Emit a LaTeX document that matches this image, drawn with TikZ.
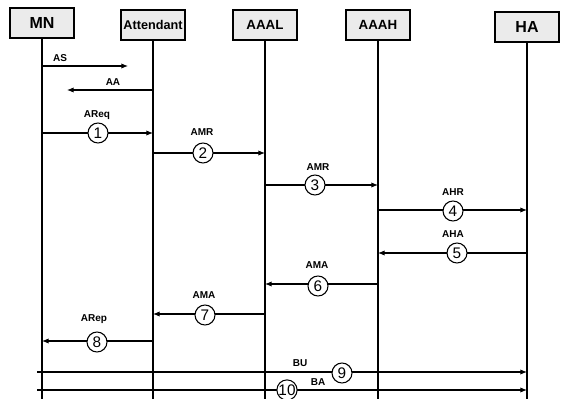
\documentclass[tikz,border=0pt]{standalone}
\usepackage{fontspec}
\setmainfont{Liberation Sans}
\usetikzlibrary{arrows.meta}
\begin{document}
\begin{tikzpicture}[x=0.75pt,y=-0.75pt,
  actor/.style={draw, line width=1pt, fill=black!8, minimum width=48pt, minimum height=22.5pt, inner sep=0pt},
  life/.style={line width=0.85pt},
  msg/.style={line width=0.85pt, -{Latex[length=5pt,width=4pt]}},
  circ/.style={circle, draw, fill=white, line width=0.8pt, minimum size=15pt, inner sep=0pt, font=\fontsize{11.5}{11.5}\selectfont},
  lbl/.style={font=\bfseries\fontsize{7.5}{8}\selectfont, inner sep=0pt}]
\useasboundingbox (0,0) rectangle (564,399);
% actors
\node[actor, font=\bfseries\fontsize{12}{12}\selectfont] (MN) at (42,23) {MN};
\node[actor, font=\bfseries\fontsize{9.5}{10}\selectfont] (ATT) at (153,25) {Attendant};
\node[actor, font=\bfseries\fontsize{10}{10}\selectfont] (AAAL) at (265,25) {AAAL};
\node[actor, font=\bfseries\fontsize{10}{10}\selectfont] (AAAH) at (378,25) {AAAH};
\node[actor, font=\bfseries\fontsize{12}{12}\selectfont] (HA) at (527,27) {HA};
% lifelines
\foreach \n in {MN,ATT,AAAL,AAAH,HA}
  \draw[life] (\n.south) -- (\n.south |- 0,399);
% free ends
\coordinate (asend) at (128,66);
\coordinate (aaend) at (67,90);
\coordinate (bustart) at (37,372);
\coordinate (bastart) at (37,390);
% messages
\draw[msg] (MN.south |- 0,66) -- (asend);
\node[lbl] (lAS) at (60,58) {AS};
\draw[msg] (ATT.south |- 0,90) -- (aaend);
\node[lbl] (lAA) at (113,82) {AA};
\draw[msg] (MN.south |- 0,133) -- (ATT.south |- 0,133);
\node[lbl] (l1) at (97,115) {AReq};
\draw[msg] (ATT.south |- 0,153) -- (AAAL.south |- 0,153);
\node[lbl] (l2) at (202,132) {AMR};
\draw[msg] (AAAL.south |- 0,185) -- (AAAH.south |- 0,185);
\node[lbl] (l3) at (318,167) {AMR};
\draw[msg] (AAAH.south |- 0,210) -- (HA.south |- 0,210);
\node[lbl] (l4) at (453,192) {AHR};
\draw[msg] (HA.south |- 0,253) -- (AAAH.south |- 0,253);
\node[lbl] (l5) at (453,234) {AHA};
\draw[msg] (AAAH.south |- 0,284) -- (AAAL.south |- 0,284);
\node[lbl] (l6) at (317,265) {AMA};
\draw[msg] (AAAL.south |- 0,314) -- (ATT.south |- 0,314);
\node[lbl] (l7) at (204,295) {AMA};
\draw[msg] (ATT.south |- 0,341) -- (MN.south |- 0,341);
\node[lbl] (l8) at (94,319) {ARep};
\draw[msg] (bustart) -- (HA.south |- 0,372);
\node[lbl] (l9) at (300,363) {BU};
\draw[msg] (bastart) -- (HA.south |- 0,390);
\node[lbl] (l10) at (318,382) {BA};
% step circles
\node[circ] (c1) at (98,133) {1};
\node[circ] (c2) at (203,153) {2};
\node[circ] (c3) at (315,185) {3};
\node[circ] (c4) at (453,211) {4};
\node[circ] (c5) at (457,253) {5};
\node[circ] (c6) at (318,286) {6};
\node[circ] (c7) at (205,315) {7};
\node[circ] (c8) at (97,342) {8};
\node[circ] (c9) at (342,373) {9};
\node[circ] (c10) at (287,390) {10};
\end{tikzpicture}
\end{document}
